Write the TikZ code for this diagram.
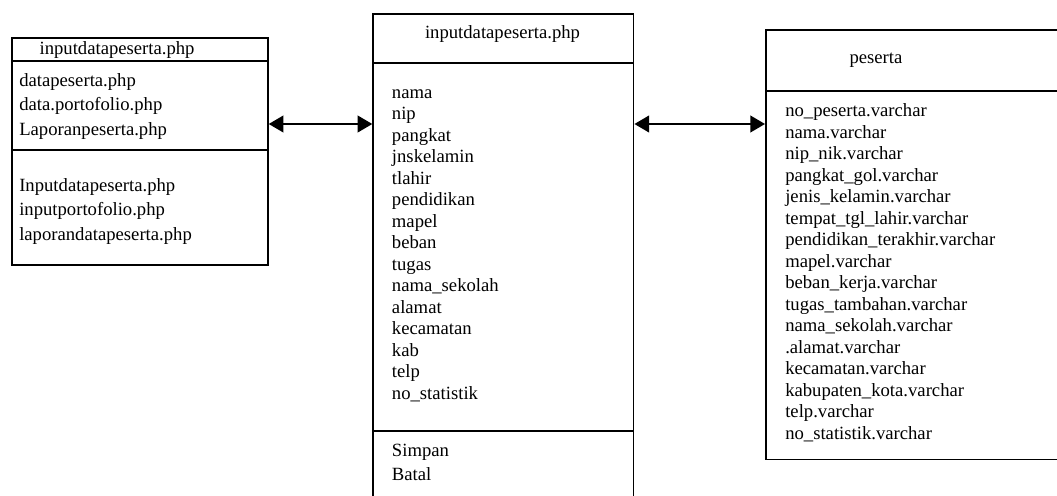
\documentclass[tikz,border=0pt]{standalone}
\usepackage{fontspec}
\setmainfont{Liberation Serif}
\usetikzlibrary{arrows.meta}
\begin{document}
\begin{tikzpicture}[x=0.75pt,y=-0.75pt,
  box/.style={draw=black,line width=1.3pt,inner sep=0pt,anchor=north west},
  sep/.style={draw=black,line width=1.3pt},
  txt/.style={anchor=base west,inner sep=0pt,font=\fontsize{14}{16}\selectfont},
  ttl/.style={anchor=base,inner sep=0pt,font=\fontsize{14}{16}\selectfont},
  arr/.style={line width=1.5pt,{Triangle[length=11pt,width=12.5pt]}-{Triangle[length=11pt,width=12.5pt]}}]
\useasboundingbox (0,0) rectangle (1057,496);
\clip (0,0) rectangle (1057,496);
% boxes
\node[box,minimum width=192pt,minimum height=170.25pt] (lbox) at (11,37.3) {};
\node[box,minimum width=195.3pt,minimum height=380pt] (mbox) at (372.3,13.3) {};
\node[box,minimum width=236.25pt,minimum height=322pt] (rbox) at (765,29.3) {};
% dividers
\coordinate (l1) at (0,60.7);
\coordinate (l2) at (0,150.3);
\coordinate (m1) at (0,62.7);
\coordinate (m2) at (0,431);
\coordinate (r1) at (0,90.7);
\draw[sep] (lbox.west |- l1) -- (lbox.east |- l1);
\draw[sep] (lbox.west |- l2) -- (lbox.east |- l2);
\draw[sep] (mbox.west |- m1) -- (mbox.east |- m1);
\draw[sep] (mbox.west |- m2) -- (mbox.east |- m2);
\draw[sep] (rbox.west |- r1) -- (rbox.east |- r1);
% left box text
\node[txt] (ltitle) at (39.3,54.3) {inputdatapeserta.php};
\node[txt] (la1) at (19,86.3) {datapeserta.php};
\node[txt] (la2) at (19,110.7) {data.portofolio.php};
\node[txt] (la3) at (19,135.7) {Laporanpeserta.php};
\node[txt] (lb1) at (19,191.3) {Inputdatapeserta.php};
\node[txt] (lb2) at (19,215.7) {inputportofolio.php};
\node[txt] (lb3) at (19,240.7) {laporandatapeserta.php};
% middle box text
\node[ttl] (mtitle) at (502.5,38.3) {inputdatapeserta.php};
\foreach \t [count=\i] in {nama,nip,pangkat,jnskelamin,tlahir,pendidikan,mapel,beban,tugas,nama\_sekolah,alamat,kecamatan,kab,telp,no\_statistik}
  {\node[txt] (m\i) at (391.7,{98.3+21.5*(\i-1)}) {\t};}
\node[txt] (simpan) at (391.7,456.7) {Simpan};
\node[txt] (batal) at (391.7,480) {Batal};
% right box text
\node[txt] (rtitle) at (849.3,63.3) {peserta};
\foreach \t [count=\i] in {no\_peserta.varchar,nama.varchar,nip\_nik.varchar,pangkat\_gol.varchar,jenis\_kelamin.varchar,tempat\_tgl\_lahir.varchar,pendidikan\_terakhir.varchar,mapel.varchar,beban\_kerja.varchar,tugas\_tambahan.varchar,nama\_sekolah.varchar,.alamat.varchar,kecamatan.varchar,kabupaten\_kota.varchar,telp.varchar,no\_statistik.varchar}
  {\node[txt] (r\i) at (785,{116.7+21.5*(\i-1)}) {\t};}
% connectors
\coordinate (ay) at (0,124);
\draw[arr] (lbox.east |- ay) -- (mbox.west |- ay);
\draw[arr] (mbox.east |- ay) -- (rbox.west |- ay);
\end{tikzpicture}
\end{document}
